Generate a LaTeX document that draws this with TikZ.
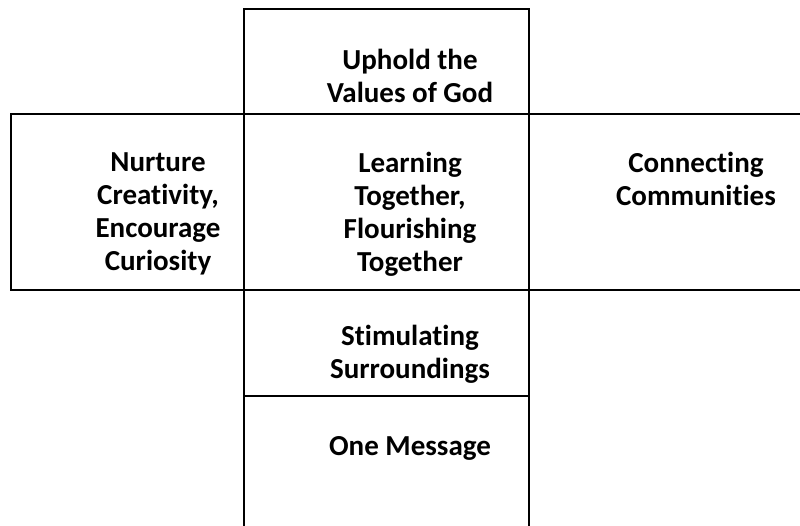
\documentclass[tikz,border=0pt]{standalone}
\usepackage{fontspec}
\setmainfont{Carlito}[Ligatures={NoCommon}]
\usetikzlibrary{positioning}

\begin{document}
\begin{tikzpicture}[x=1pt, y=-1pt,
			every node/.style={font=\bfseries\fontsize{29}{33}\selectfont},
			cell/.style={align=center, inner sep=0pt},
			rule/.style={draw, line width=2.8pt}]
			\useasboundingbox (0,0) rectangle (800,526);
			% grid lines
			\path[rule] (244,526) -- (244,9) -- (529,9) -- (529,526);
			\path[rule] (800,114) -- (11,114) -- (11,290) -- (800,290);
			\path[rule] (244,396) -- (529,396);
			% cell texts
			\node[cell] (values) at (410,76) {Uphold the\\Values of God};
			\node[cell] (nurture) at (158,214) {Nurture\\Creativity,\\Encourage\\Curiosity};
			\node[cell] (learning) at (410,214) {Learning\\Together,\\Flourishing\\Together};
			\node[cell] (connect) at (696,179) {Connecting\\Communities};
			\node[cell] (stimulate) at (410,354) {Stimulating\\Surroundings};
			\node[cell] (message) at (410,448) {One Message};
		\end{tikzpicture}
\end{document}
